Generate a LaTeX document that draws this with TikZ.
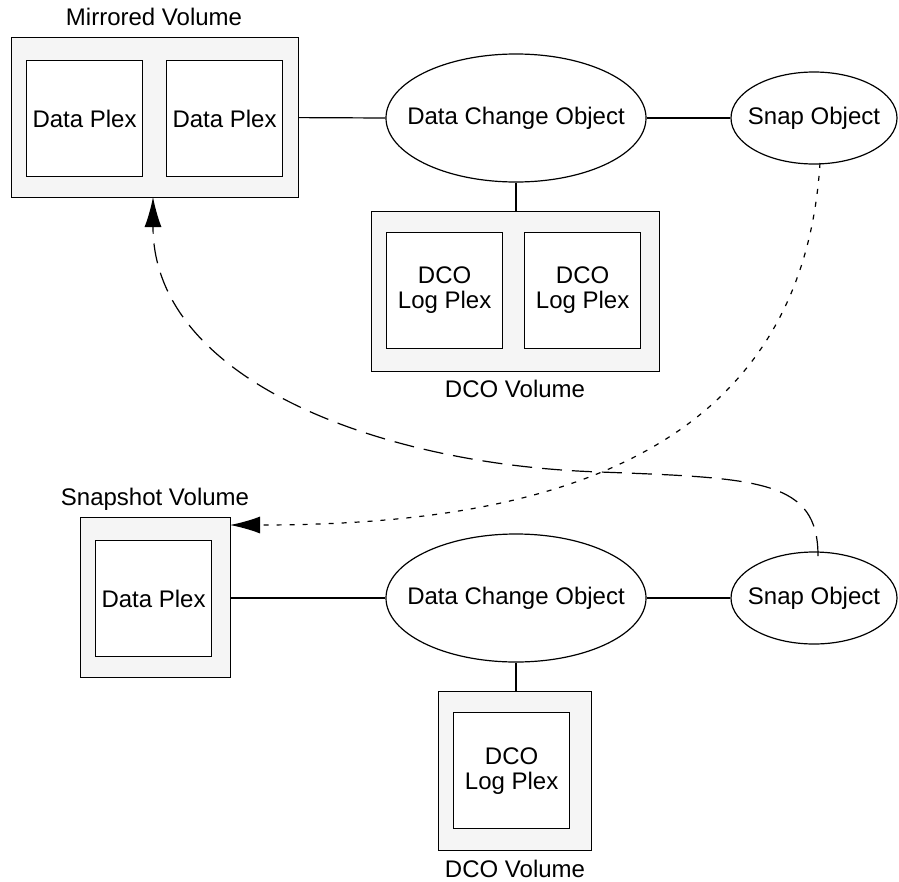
\documentclass[tikz,border=0pt]{standalone}
\usepackage{fontspec}
\setmainfont{Liberation Sans}
\usetikzlibrary{shapes.geometric,arrows.meta}
\definecolor{volfill}{HTML}{F5F5F5}
\newcommand{\zerowd}[1]{\makebox[0pt]{#1}}
\begin{document}
\begin{tikzpicture}[x=1pt,y=-1pt,
  every node/.style={font=\fontsize{24}{25}\selectfont},
  vol/.style={draw,line width=1.2pt,fill=volfill,inner sep=0pt,anchor=north west},
  plex/.style={draw,line width=1.2pt,fill=white,inner sep=0pt,anchor=north west,minimum width=116pt,minimum height=116pt,align=center},
  obj/.style={draw,ellipse,line width=1.2pt,fill=white,inner sep=0pt},
  conn/.style={line width=1.2pt},
  lbl/.style={inner sep=0pt,anchor=base},
  tip/.style={-{Latex[length=30pt,width=17pt]}}]
\useasboundingbox (0,0) rectangle (899,881);
% Mirrored volume
\node[vol,minimum width=287pt,minimum height=160pt] (mv) at (11,37) {};
\node[plex] (dp1) at (26,60) {Data Plex};
\node[plex] (dp2) at (166,60) {Data Plex};
\node[lbl] (mvl) at (154,25) {Mirrored Volume};
% top DCO
\node[obj,minimum width=260pt,minimum height=128pt] (dco1) at (516,118) {\zerowd{Data Change Object}};
\node[obj,minimum width=166pt,minimum height=92pt] (snap1) at (814,118) {\zerowd{Snap Object}};
% DCO volume top
\node[vol,minimum width=288pt,minimum height=160pt] (dv1) at (371,211) {};
\node[plex] (lp1) at (386,232) {DCO\\Log Plex};
\node[plex] (lp2) at (524,232) {DCO\\Log Plex};
\node[lbl] (dv1l) at (515,397) {DCO Volume};
% Snapshot volume
\node[vol,minimum width=150pt,minimum height=160pt] (sv) at (80,517) {};
\node[plex] (dp3) at (95,540) {Data Plex};
\node[lbl] (svl) at (155,505) {Snapshot Volume};
% bottom DCO
\node[obj,minimum width=260pt,minimum height=128pt] (dco2) at (516,598) {\zerowd{Data Change Object}};
\node[obj,minimum width=166pt,minimum height=92pt] (snap2) at (814,598) {\zerowd{Snap Object}};
\node[vol,minimum width=153pt,minimum height=159pt] (dv2) at (438,691) {};
\node[plex] (lp3) at (453,712) {DCO\\Log Plex};
\node[lbl] (dv2l) at (515,877) {DCO Volume};
% connectors
\draw[conn] (mv.east) -- (dco1.west);
\draw[conn] (dco1.east) -- (snap1.west);
\draw[conn] (dco1.south) -- (dco1.south |- dv1.north);
\draw[conn] (sv.east |- dco2.west) -- (dco2.west);
\draw[conn] (dco2.east) -- (snap2.west);
\draw[conn] (dco2.south) -- (dco2.south |- dv2.north);
% dotted and dashed arrows
\coordinate (s1b) at (820,163);
\coordinate (svin) at (230,525);
\draw[line width=1.2pt,dash pattern=on 5pt off 8pt,tip]
  (s1b) .. controls (800,480) and (500,525) .. (svin);
\coordinate (s2t) at (818,556);
\coordinate (mvin) at (153,197);
\draw[line width=1.2pt,dash pattern=on 20pt off 10pt,tip]
  (s2t) .. controls (818,480) and (760,478) .. (600,472)
  .. controls (380,465) and (153,380) .. (mvin);
\end{tikzpicture}
\end{document}
